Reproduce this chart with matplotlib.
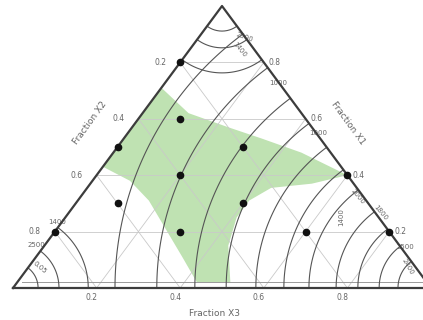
import numpy as np
import matplotlib
matplotlib.use("Agg")
import matplotlib.pyplot as plt
import matplotlib.tri as mtri

# mixture design points, given as fractions (b = bottom axis, c = right axis, a = 1 - b - c)
pts_b = [0.0, 0.1, 0.0, 0.3, 0.2, 0.1, 0.4, 0.3, 0.6, 0.0, 0.6, 0.8]
pts_c = [0.8, 0.6, 0.5, 0.5, 0.4, 0.3, 0.3, 0.2, 0.2, 0.2, 0.4, 0.2]

# feasible (green) region outline
region_b = [0.0, 0.11, 0.23, 0.33, 0.45, 0.60, 0.53, 0.44, 0.41, 0.41, 0.44, 0.51,
            0.43, 0.35, 0.26, 0.17, 0.09, 0.0]
region_c = [0.71, 0.62, 0.57, 0.53, 0.48, 0.40, 0.37, 0.355, 0.31, 0.25, 0.15, 0.02,
            0.02, 0.11, 0.21, 0.31, 0.38, 0.43]

# iso-lines, distance from each corner (fraction of the base)
levels_B = [0.079, 0.124, 0.175, 0.227, 0.292, 0.352, 0.419, 0.49, 0.565, 0.656, 0.756]
levels_A = [0.06, 0.11, 0.18]
levels_C = [0.06, 0.10, 0.16]

tick_vals = [0.2, 0.4, 0.6, 0.8]
tick_text = ["0.2", "0.4", "0.6", "0.8"]

# contour value labels
lab_text = ["2500", "1400", "1000", "1000", "2000", "1400", "1800", "2500", "2400",
            "1400", "2500", "0.05"]
lab_b = [0.11, 0.12, 0.27, 0.455, 0.664, 0.659, 0.747, 0.867, 0.908, -0.012, -0.021, 0.028]
lab_c = [0.89, 0.845, 0.727, 0.55, 0.323, 0.252, 0.266, 0.145, 0.074, 0.234, 0.152, 0.074]
lab_rot = [-20, -50, 0, 0, -50, 90, -50, 0, -60, 0, 0, -40]

H = 282 / 418  # drawn height of the triangle relative to its base


def tern(b, c):
    b = np.asarray(b, float)
    c = np.asarray(c, float)
    return b + c / 2, c * H


fig = plt.figure(figsize=(4.23, 3.2), dpi=100)
ax = fig.add_axes([13 / 423, 32 / 320, 418 / 423, 282 / 320])
ax.set_xlim(0, 1)
ax.set_ylim(0, H)
ax.axis("off")

# green region
gx, gy = tern(region_b, region_c)
ax.fill(gx, gy, color="#bfe2b2", lw=0, zorder=1)

# grid
grid_kw = dict(color="#c9c9c9", lw=0.6, zorder=2)
for v in tick_vals:
    ax.plot(*tern([0, 1 - v], [v, v]), **grid_kw)
    ax.plot(*tern([v, v], [0, 1 - v]), **grid_kw)
    ax.plot(*tern([1 - v, 0], [0, 1 - v]), **grid_kw)
ax.plot(*tern([0.012, 0.97], [0.02, 0.02]), color="#9a9a9a", lw=0.7, zorder=2)

# iso-lines
n = 160
bb, cc = np.meshgrid(np.arange(n + 1) / n, np.arange(n + 1) / n)
keep = bb + cc <= 1 + 1e-9
X, Y = tern(bb[keep], cc[keep])
tri = mtri.Triangulation(X, Y)
line_kw = dict(colors="#555555", linewidths=0.8, zorder=3)
ax.tricontour(tri, np.hypot(X - 1, Y), levels=levels_B, **line_kw)
ax.tricontour(tri, np.hypot(X, Y), levels=levels_A, **line_kw)
ax.tricontour(tri, np.hypot(X - 0.5, Y - H), levels=levels_C, **line_kw)

# frame
fx, fy = tern([0, 1, 0, 0], [0, 0, 1, 0])
ax.plot(fx, fy, color="#3c3c3c", lw=1.6, zorder=5, clip_on=False)

# design points
px, py = tern(pts_b, pts_c)
ax.plot(px, py, "o", color="#111111", ms=4.5, zorder=6, clip_on=False)

txt = dict(fontsize=5.5, color="#666666", ha="center", va="center",
           textcoords="offset pixels", annotation_clip=False)
for v, t in zip(tick_vals, tick_text):
    ax.annotate(t, tern(v, 0), xytext=(-5, -10), **txt)          # bottom
    ax.annotate(t, tern(1 - v, v), xytext=(11, 0), **txt)        # right
    ax.annotate(t, tern(0, 1 - v), xytext=(-20, 0), **txt)       # left

for t, b, c, r in zip(lab_text, lab_b, lab_c, lab_rot):
    ax.annotate(t, tern(b, c), xytext=(0, 0), rotation=r, **dict(txt, fontsize=5))

ax.annotate("Fraction X3", tern(0.5, 0), xytext=(-8, -25), **dict(txt, fontsize=6.5))
ax.annotate("Fraction X2", tern(0, 0.5), xytext=(-28, 24), rotation=54,
            **dict(txt, fontsize=6.5))
ax.annotate("Fraction X1", tern(0.5, 0.5), xytext=(22, 24), rotation=-54,
            **dict(txt, fontsize=6.5))

fig.savefig("out.png", dpi=100)
